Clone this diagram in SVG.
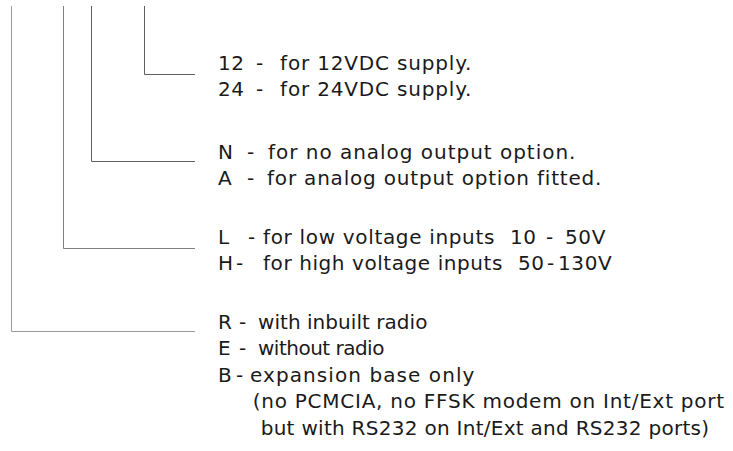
<svg xmlns="http://www.w3.org/2000/svg" width="733" height="451" viewBox="0 0 733 451">
<style>
.t{font-family:"DejaVu Sans","Liberation Sans",sans-serif;font-size:20px;fill:#1a1a1a;letter-spacing:0.6px}
.c{fill:none;stroke-width:1}
</style>
<rect width="733" height="451" fill="#fff"/>
<g id="connectors">
<path class="c" stroke="#9a9a9a" d="M11.5 6V331.5H195"/>
<path class="c" stroke="#808080" d="M63.5 6V248.5H195"/>
<path class="c" stroke="#606060" d="M91.5 6V161.5H195"/>
<path class="c" stroke="#606060" d="M144.5 6V74.5H195"/>
</g>
<g id="supply">
<text class="t" x="218" y="69.5">12</text><text class="t" x="256" y="69.5">-</text><text class="t" x="280" y="69.5" textLength="192" lengthAdjust="spacing">for 12VDC supply.</text>
<text class="t" x="218" y="96">24</text><text class="t" x="256" y="96">-</text><text class="t" x="280" y="96" textLength="192" lengthAdjust="spacing">for 24VDC supply.</text>
</g>
<g id="analog">
<text class="t" x="218" y="158.5">N</text><text class="t" x="247" y="158.5">-</text><text class="t" x="268" y="158.5" textLength="308" lengthAdjust="spacing">for no analog output option.</text>
<text class="t" x="218" y="185">A</text><text class="t" x="247" y="185">-</text><text class="t" x="267" y="185" textLength="335" lengthAdjust="spacing">for analog output option fitted.</text>
</g>
<g id="voltage">
<text class="t" x="218" y="243.5">L</text><text class="t" x="248" y="243.5">-</text><text class="t" x="263" y="243.5" textLength="232" lengthAdjust="spacing">for low voltage inputs</text><text class="t" x="510" y="243.5">10</text><text class="t" x="546" y="243.5">-</text><text class="t" x="565" y="243.5">50V</text>
<text class="t" x="218" y="270">H</text><text class="t" x="236" y="270">-</text><text class="t" x="263" y="270" textLength="240" lengthAdjust="spacing">for high voltage inputs</text><text class="t" x="518" y="270">50</text><text class="t" x="547" y="270">-</text><text class="t" x="558" y="270">130V</text>
</g>
<g id="radio">
<text class="t" x="218" y="328.5">R</text><text class="t" x="239" y="328.5">-</text><text class="t" x="258" y="328.5" textLength="170" lengthAdjust="spacing">with inbuilt radio</text>
<text class="t" x="218" y="355">E</text><text class="t" x="239" y="355">-</text><text class="t" x="258" y="355" textLength="127" lengthAdjust="spacing">without radio</text>
<text class="t" x="218" y="381.5">B</text><text class="t" x="236" y="381.5">-</text><text class="t" x="250" y="381.5" textLength="225" lengthAdjust="spacing">expansion base only</text>
<text class="t" x="252.7" y="408" textLength="472" lengthAdjust="spacing">(no PCMCIA, no FFSK modem on Int/Ext port</text>
<text class="t" x="260.7" y="434.5" textLength="449" lengthAdjust="spacing">but with RS232 on Int/Ext and RS232 ports)</text>
</g>
</svg>
